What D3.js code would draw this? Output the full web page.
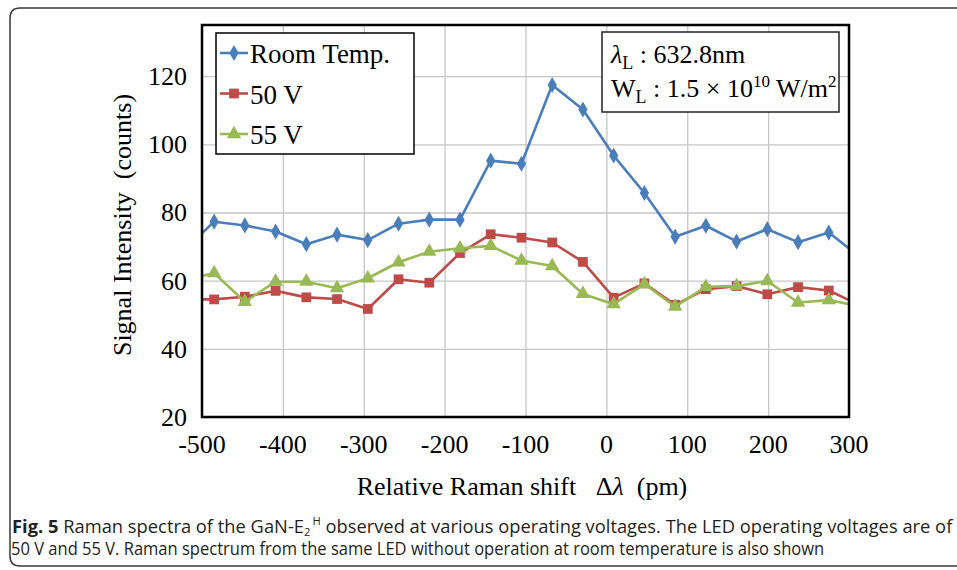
<!DOCTYPE html>
<html>
<head>
<meta charset="utf-8">
<script src="https://cdn.jsdelivr.net/npm/d3@7/dist/d3.min.js"></script>
<style>
  body { margin: 0; background: #fff; }
  svg { display: block; }
</style>
</head>
<body>
<div id="containerChart"></div>
<script>
// values (x in pm, y in counts)
let shiftPm = [-523, -485, -447, -409, -371, -333, -295, -257, -219, -181, -143, -105, -67, -29, 9, 47, 85, 123, 161, 199, 237, 275, 313];
let roomTemp = [68.7, 77.3, 76.2, 74.4, 70.7, 73.5, 71.9, 76.7, 77.9, 77.9, 95.2, 94.3, 117.4, 110.2, 96.7, 85.7, 72.9, 76.1, 71.5, 75.1, 71.3, 74.1, 67.1];
let volt50 = [54.5, 54.5, 55.3, 57.0, 55.1, 54.6, 51.7, 60.4, 59.4, 68.1, 73.6, 72.6, 71.2, 65.5, 55.0, 59.2, 52.9, 57.5, 58.4, 56.0, 58.1, 57.1, 52.8];
let volt55 = [60.2, 62.2, 53.8, 59.7, 59.7, 57.8, 60.7, 65.4, 68.5, 69.5, 70.2, 65.9, 64.3, 56.1, 53.1, 59.0, 52.4, 58.2, 58.4, 59.9, 53.6, 54.3, 52.5];
let seriesNames = ["Room Temp.", "50 V", "55 V"];
let xTicks = [-500, -400, -300, -200, -100, 0, 100, 200, 300];
let yTicks = [20, 40, 60, 80, 100, 120];

function mainChart() {
    let w = 957, h = 570;
    let plot = {left: 202, right: 849, top: 25, bottom: 417};
    let serif = "'Liberation Serif', 'Times New Roman', serif";
    let tickFont = "26px " + serif;
    let colors = ["#4a7ebb", "#be4b48", "#98b954"];
    let symbols = [d3.symbolDiamond, d3.symbolSquare, d3.symbolTriangle];
    let symbolSizes = [75, 95, 90];

    let svg = d3.select("#containerChart")
                .append("svg")
                .attr("width", w)
                .attr("height", h);

    //outer rounded frame of the figure
    svg.append("path")
       .attr("d", "M957,8 L20,8 Q10,8 10,18 L10,556 Q10,566 20,566 L957,566")
       .style("fill", "none")
       .style("stroke", "#3a3a3a")
       .style("stroke-width", 1.5);

    let x = d3.scaleLinear().domain([-500, 300]).range([plot.left, plot.right]);
    let y = d3.scaleLinear().domain([20, 135]).range([plot.bottom, plot.top]);

    //grid lines
    svg.append("g")
       .attr("transform", "translate(0," + plot.bottom + ")")
       .call(d3.axisBottom(x).tickValues(xTicks).tickSize(-(plot.bottom - plot.top)).tickFormat(""))
       .call(g => g.select(".domain").remove())
       .selectAll("line").style("stroke", "#c6c6c6").style("stroke-width", 1.3);

    svg.append("g")
       .attr("transform", "translate(" + plot.left + ",0)")
       .call(d3.axisLeft(y).tickValues(yTicks).tickSize(-(plot.right - plot.left)).tickFormat(""))
       .call(g => g.select(".domain").remove())
       .selectAll("line").style("stroke", "#c6c6c6").style("stroke-width", 1.3);

    //tick labels
    svg.selectAll("text.xtick")
       .data(xTicks)
       .enter().append("text")
       .attr("class", "xtick")
       .attr("x", d => x(d))
       .attr("y", 453)
       .attr("text-anchor", "middle")
       .style("font", tickFont)
       .text(d => d);

    svg.selectAll("text.ytick")
       .data(yTicks)
       .enter().append("text")
       .attr("class", "ytick")
       .attr("x", 187)
       .attr("y", d => y(d) + 9)
       .attr("text-anchor", "end")
       .style("font", tickFont)
       .text(d => d);

    //axis titles (keep the double spaces)
    let xTitle = svg.append("text")
       .attr("x", 522)
       .attr("y", 495)
       .attr("text-anchor", "middle")
       .style("white-space", "pre")
       .style("font", tickFont);
    xTitle.append("tspan").text("Relative Raman shift   \u0394");
    xTitle.append("tspan").style("font-style", "italic").text("\u03bb");
    xTitle.append("tspan").text("  (pm)");

    svg.append("text")
       .attr("transform", "translate(131,225) rotate(-90)")
       .attr("text-anchor", "middle")
       .style("white-space", "pre")
       .style("font", tickFont)
       .text("Signal Intensity  (counts)");

    //clip lines to the plot area
    svg.append("clipPath")
       .attr("id", "plotClip")
       .append("rect")
       .attr("x", plot.left)
       .attr("y", plot.top)
       .attr("width", plot.right - plot.left)
       .attr("height", plot.bottom - plot.top);

    let allSeries = [roomTemp, volt50, volt55];
    let line = d3.line()
                 .x(d => x(d[0]))
                 .y(d => y(d[1]));

    let lines = svg.append("g").attr("clip-path", "url(#plotClip)");

    allSeries.forEach(function(vals, k) {
        let pts = shiftPm.map((s, i) => [s, vals[i]]);
        lines.append("path")
             .datum(pts)
             .attr("d", line)
             .style("fill", "none")
             .style("stroke", colors[k])
             .style("stroke-width", 2.6)
             .style("stroke-linejoin", "round");

        lines.selectAll("path.m" + k)
             .data(pts)
             .enter().append("path")
             .attr("class", "m" + k)
             .attr("d", d3.symbol().type(symbols[k]).size(symbolSizes[k]))
             .attr("transform", d => "translate(" + x(d[0]) + "," + y(d[1]) + ")")
             .style("fill", colors[k]);
    });

    //plot frame
    svg.append("rect")
       .attr("x", plot.left)
       .attr("y", plot.top)
       .attr("width", plot.right - plot.left)
       .attr("height", plot.bottom - plot.top)
       .style("fill", "none")
       .style("stroke", "#000")
       .style("stroke-width", 2.5);

    //legend
    svg.append("rect")
       .attr("x", 216).attr("y", 33)
       .attr("width", 198).attr("height", 121)
       .style("fill", "#fff")
       .style("stroke", "#000")
       .style("stroke-width", 1.5);

    let legend = svg.selectAll("g.legend")
       .data(seriesNames)
       .enter().append("g")
       .attr("class", "legend")
       .attr("transform", (d, i) => "translate(0," + (53 + i * 40.5) + ")");

    legend.append("line")
       .attr("x1", 220).attr("x2", 248)
       .style("stroke", (d, i) => colors[i])
       .style("stroke-width", 2.6);

    legend.append("path")
       .attr("d", (d, i) => d3.symbol().type(symbols[i]).size(symbolSizes[i])())
       .attr("transform", "translate(234,0)")
       .style("fill", (d, i) => colors[i]);

    legend.append("text")
       .attr("x", 250)
       .attr("y", 10)
       .style("font", "27px " + serif)
       .text(d => d);

    //laser conditions box
    svg.append("rect")
       .attr("x", 602).attr("y", 32)
       .attr("width", 237).attr("height", 80)
       .style("fill", "#fff")
       .style("stroke", "#222")
       .style("stroke-width", 1.5);

    let note1 = svg.append("text")
       .attr("x", 611).attr("y", 63)
       .style("font", "26px " + serif);
    note1.append("tspan").style("font-style", "italic").text("\u03bb");
    note1.append("tspan").attr("dy", 6).style("font-size", "18px").text("L");
    note1.append("tspan").attr("dy", -6).text(" : 632.8nm");

    let note2 = svg.append("text")
       .attr("x", 611).attr("y", 97)
       .style("font", "26px " + serif);
    note2.append("tspan").text("W");
    note2.append("tspan").attr("dy", 6).style("font-size", "18px").text("L");
    note2.append("tspan").attr("dy", -6).text(" : 1.5 \u00d7 10");
    note2.append("tspan").attr("dy", -10).style("font-size", "17px").text("10");
    note2.append("tspan").attr("dy", 10).text(" W/m");
    note2.append("tspan").attr("dy", -10).style("font-size", "17px").text("2");

    //figure caption: each line squeezed to the width it has in the figure
    let capFont = "18px 'Open Sans', 'Noto Sans', sans-serif";
    let capColor = "#231f20";
    let capLine2 = "50 V and 55 V. Raman spectrum from the same LED without operation at room temperature is also shown";

    let cap2 = svg.append("text")
       .attr("x", 0).attr("y", 0)
       .style("font", capFont)
       .style("fill", capColor)
       .text(capLine2);
    let sx2 = 814 / cap2.node().getComputedTextLength();
    cap2.attr("transform", "translate(11,555) scale(" + sx2 + ",1)");

    let cap1 = svg.append("text")
       .attr("x", 0).attr("y", 0)
       .style("font", capFont)
       .style("fill", capColor);
    cap1.append("tspan").style("font-weight", "bold").text("Fig. 5");
    cap1.append("tspan").text(" Raman spectra of the GaN-E");
    cap1.append("tspan").attr("dy", 3).style("font-size", "11px").text("2");
    cap1.append("tspan").attr("dy", -11).attr("dx", 2).style("font-size", "11px").text("H");
    cap1.append("tspan").attr("dy", 8).text(" observed at various operating voltages. The LED operating voltages are of");
    let sx1 = 939 / cap1.node().getComputedTextLength();
    cap1.attr("transform", "translate(12,533) scale(" + sx1 + ",1)");
}

mainChart();
</script>
</body>
</html>
